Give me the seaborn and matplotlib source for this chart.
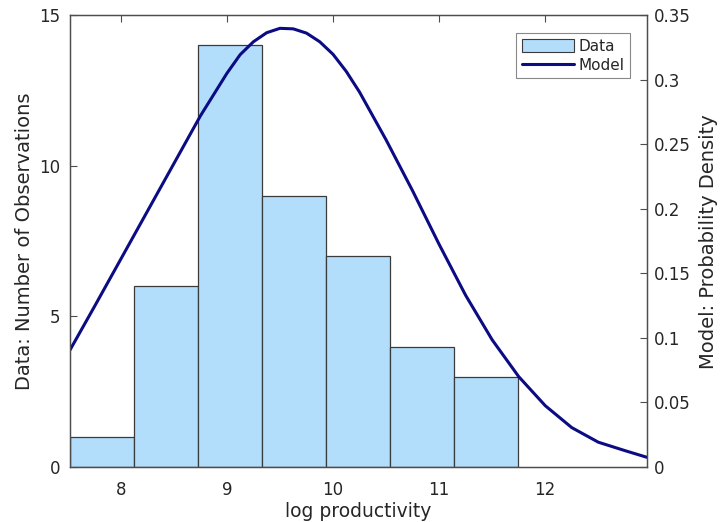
import matplotlib

matplotlib.use("Agg")
import pandas as pd
import seaborn as sns
from matplotlib import pyplot as plt
from matplotlib.lines import Line2D
from matplotlib.patches import Patch
from matplotlib.ticker import FormatStrFormatter, FuncFormatter

# histogram bins
bin_edges = [7.522, 8.125, 8.728, 9.331, 9.934, 10.537, 11.140, 11.743]
bin_counts = [1, 6, 14, 9, 7, 4, 3]

# model curve
model_x = [
    7.522, 7.75, 8.0, 8.25, 8.5, 8.75, 9.0, 9.125, 9.25, 9.375, 9.5,
    9.625, 9.75, 9.875, 10.0, 10.125, 10.25, 10.5, 10.75, 11.0, 11.25,
    11.5, 11.75, 12.0, 12.25, 12.5, 12.75, 12.958,
]
model_density = [
    0.0907, 0.124, 0.161, 0.198, 0.235, 0.272, 0.305, 0.3195, 0.3295,
    0.3365, 0.3399, 0.3395, 0.3362, 0.3295, 0.3198, 0.3065, 0.2905,
    0.2535, 0.2140, 0.1725, 0.1330, 0.0985, 0.0700, 0.0475, 0.0305,
    0.0192, 0.0127, 0.0075,
]

x_ticks = [8, 9, 10, 11, 12]
count_ticks = [0, 5, 10, 15]
density_ticks = [0, 0.05, 0.1, 0.15, 0.2, 0.25, 0.3, 0.35]

BAR_COLOR = "#b3defb"
LINE_COLOR = "#0b0b84"
AXIS_COLOR = "#4d4d4d"
TEXT_COLOR = "#262626"

sns.set_style("white")
plt.rcParams["font.family"] = ["DejaVu Sans"]

bin_centers = [(a + b) / 2 for a, b in zip(bin_edges[:-1], bin_edges[1:])]
hist_df = pd.DataFrame({"center": bin_centers, "count": bin_counts})
model_df = pd.DataFrame({"x": model_x, "density": model_density})

fig = plt.figure(figsize=(7.22, 5.22), dpi=100)
ax = fig.add_axes([0.097, 0.1054, 0.799, 0.8653])

sns.histplot(
    data=hist_df,
    x="center",
    weights="count",
    bins=bin_edges,
    color=BAR_COLOR,
    alpha=1.0,
    edgecolor="#3a3a3a",
    linewidth=0.9,
    ax=ax,
)

ax2 = ax.twinx()
sns.lineplot(
    data=model_df, x="x", y="density", color=LINE_COLOR, linewidth=2.2, ax=ax2
)

ax.set_xlim(bin_edges[0], 12.958)
ax.set_ylim(0, 15)
ax2.set_ylim(0, 0.35)
ax.set_xticks(x_ticks)
ax.set_yticks(count_ticks)
ax2.set_yticks(density_ticks)
ax2.yaxis.set_major_formatter(FuncFormatter(lambda v, _: f"{v:g}"))
ax.xaxis.set_major_formatter(FormatStrFormatter("%d"))

ax.set_xlabel("log productivity", fontsize=13.5, color=TEXT_COLOR, labelpad=2)
ax.set_ylabel(
    "Data: Number of Observations", fontsize=14, color=TEXT_COLOR, labelpad=4
)
ax2.set_ylabel(
    "Model: Probability Density", fontsize=14, color=TEXT_COLOR, labelpad=6
)

for a in (ax, ax2):
    for spine in a.spines.values():
        spine.set_color(AXIS_COLOR)
        spine.set_linewidth(0.9)
    a.tick_params(
        direction="in", length=5, width=0.8, color=AXIS_COLOR,
        labelsize=12, labelcolor=TEXT_COLOR,
    )
ax.tick_params(axis="x", top=True, pad=10)
ax.tick_params(axis="y", left=True, right=False, pad=7)
ax2.tick_params(axis="y", right=True, left=False, pad=5)

handles = [
    Patch(facecolor=BAR_COLOR, edgecolor="#3a3a3a", linewidth=0.8, label="Data"),
    Line2D([0], [0], color=LINE_COLOR, linewidth=2.2, label="Model"),
]
leg = ax2.legend(
    handles=handles,
    loc="upper right",
    bbox_to_anchor=(0.97, 0.96),
    fontsize=11,
    frameon=True,
    fancybox=False,
    framealpha=1,
    edgecolor="#888888",
    handlelength=3.4,
    handleheight=1.0,
    handletextpad=0.3,
    borderpad=0.35,
    labelspacing=0.25,
    borderaxespad=0,
)
leg.get_frame().set_linewidth(0.8)
for text in leg.get_texts():
    text.set_color(TEXT_COLOR)

fig.savefig("out.png", dpi=100)
